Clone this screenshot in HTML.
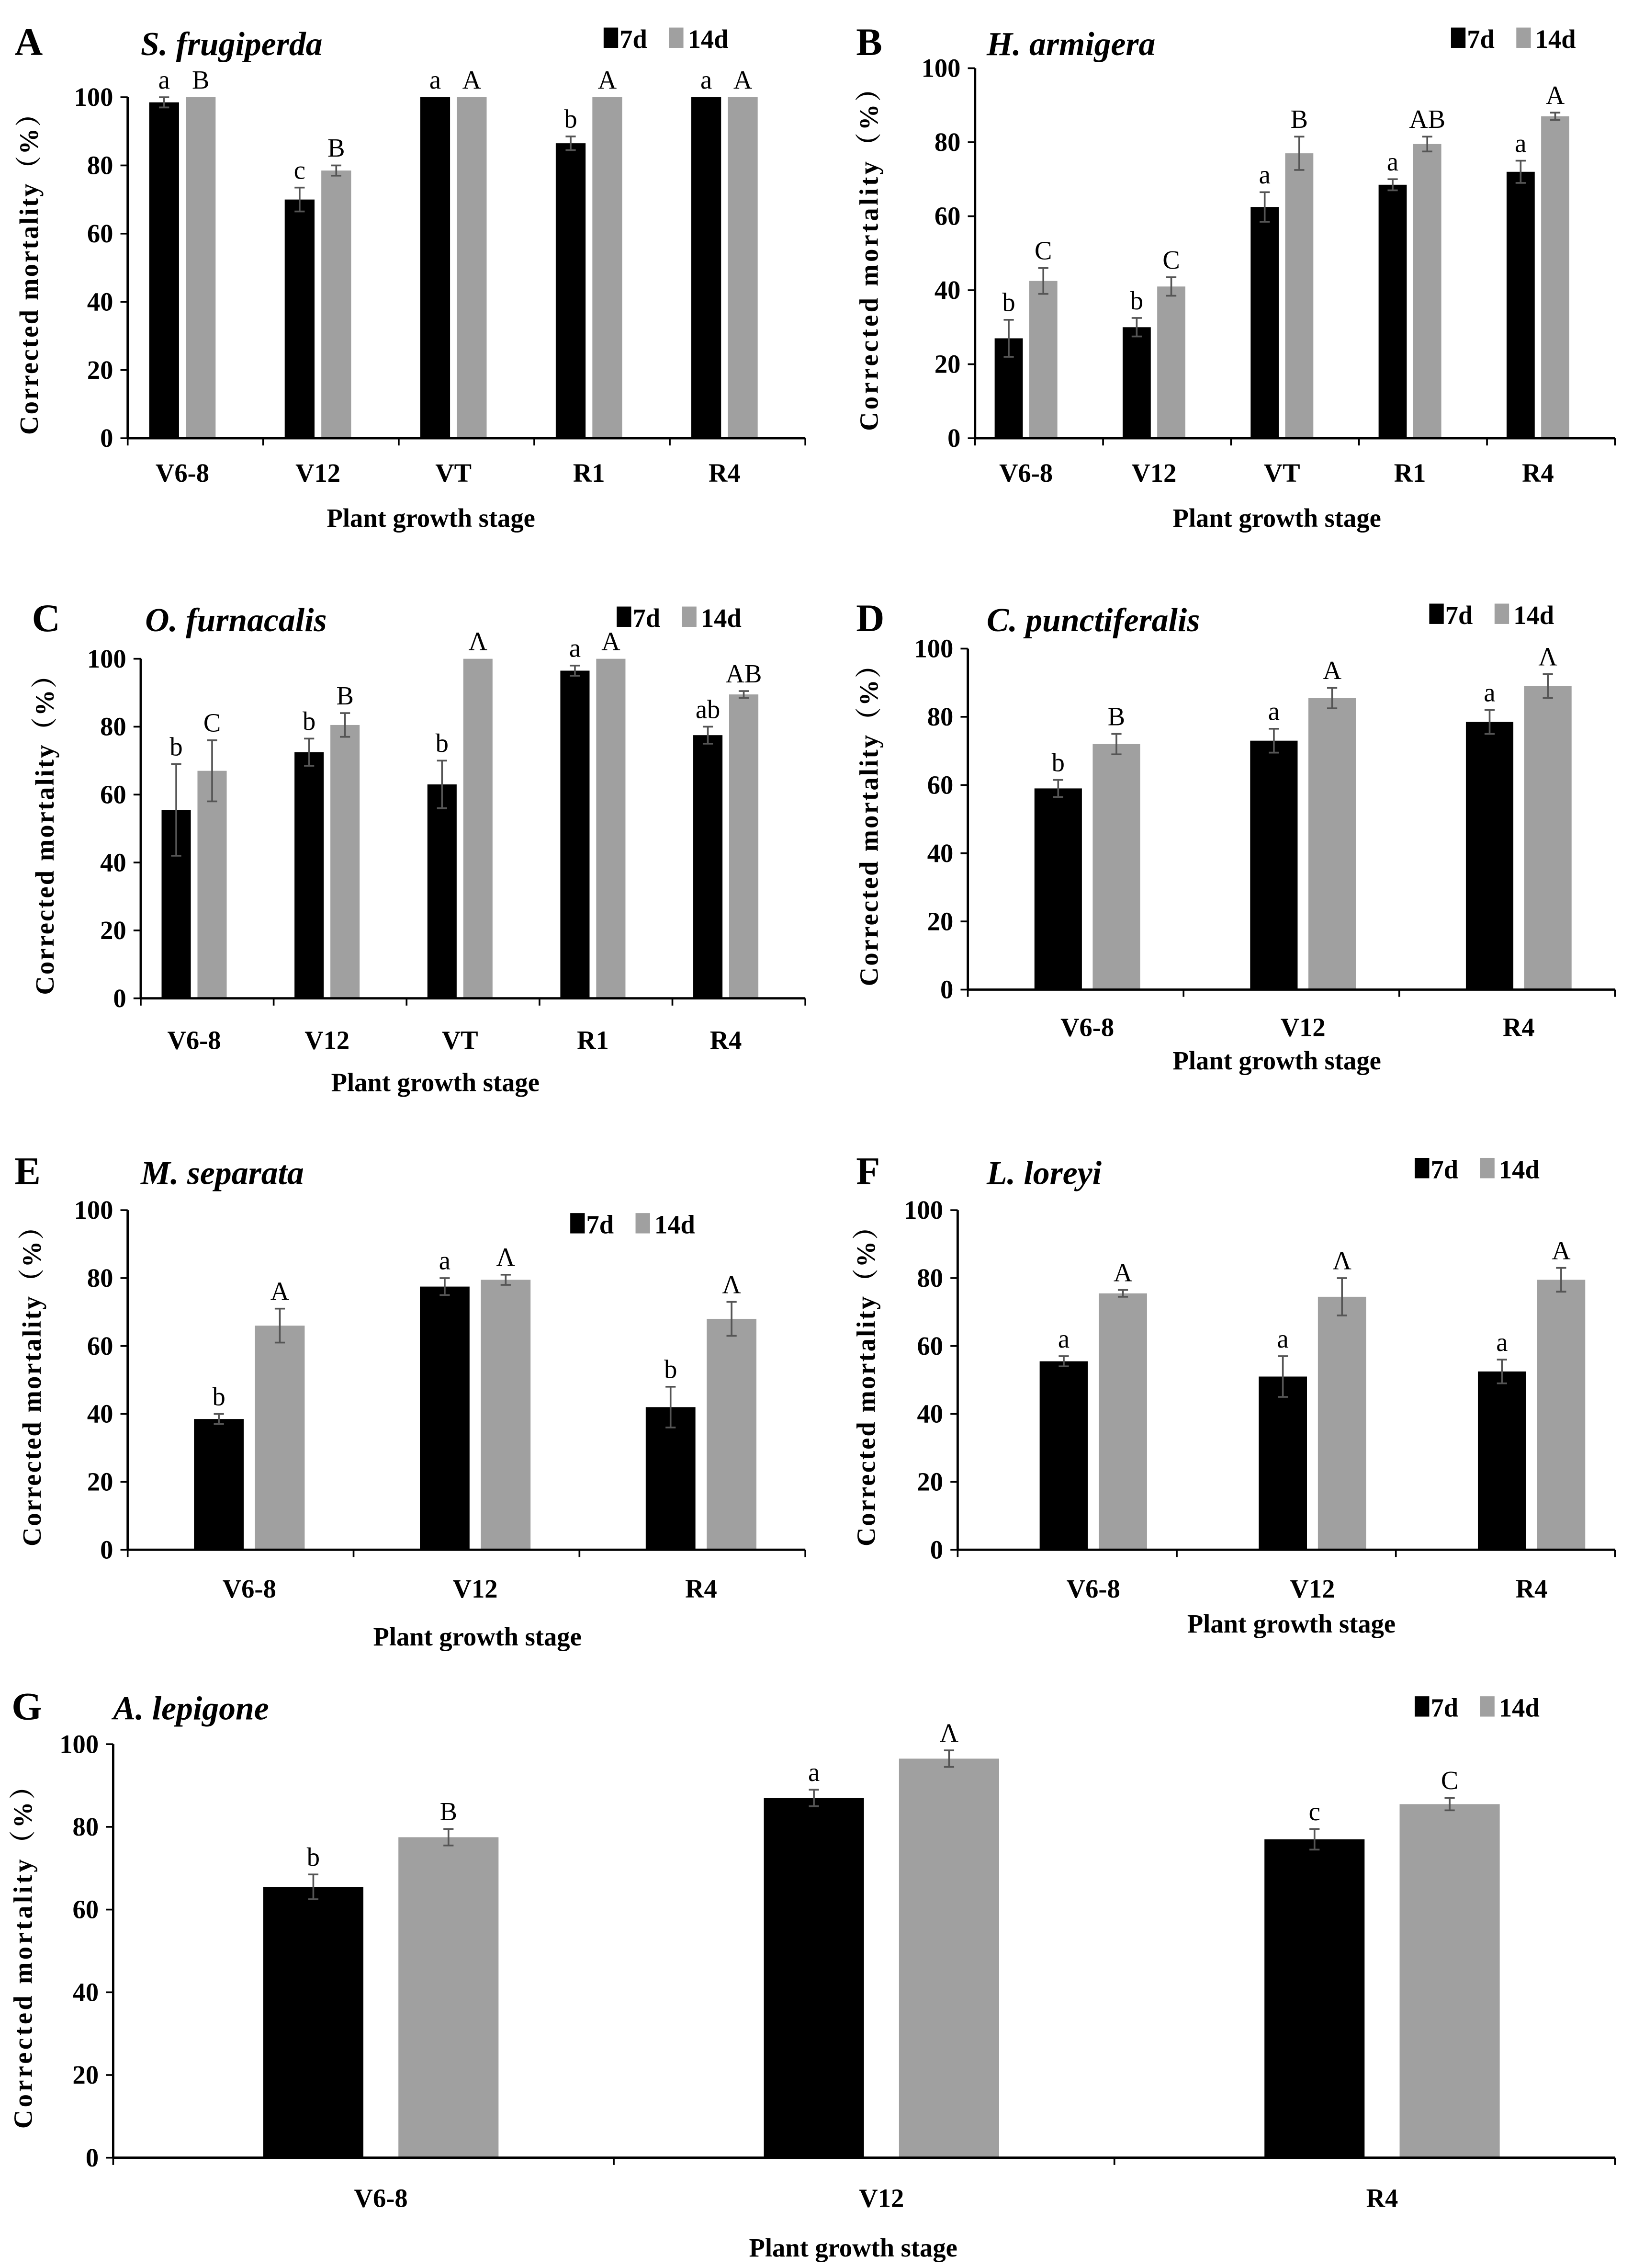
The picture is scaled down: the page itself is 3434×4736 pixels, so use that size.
<!DOCTYPE html>
<html><head><meta charset="utf-8"><style>
html,body{margin:0;padding:0;background:#fff}
svg{display:block}
text{font-family:"Liberation Serif","Noto Serif CJK SC",serif}
</style></head><body>
<svg id="fig" xmlns="http://www.w3.org/2000/svg" width="3434" height="4736" viewBox="0 0 1133 1563" preserveAspectRatio="none"></svg>
<script>
// ---- data ----
const catsA = ["V6-8","V12","VT","R1","R4"];
const d7A = [98.5,70,100,86.5,100];
const e7A = [1.5,3.5,0,2,0];
const d14A = [100,78.5,100,100,100];
const e14A = [0,1.5,0,0,0];
const l7A = ["a","c","a","b","a"];
const l14A = ["B","B","A","A","A"];

const catsB = ["V6-8","V12","VT","R1","R4"];
const d7B = [27,30,62.5,68.5,72];
const e7B = [5,2.5,4,1.5,3];
const d14B = [42.5,41,77,79.5,87];
const e14B = [3.5,2.5,4.5,2,1];
const l7B = ["b","b","a","a","a"];
const l14B = ["C","C","B","AB","A"];

const catsC = ["V6-8","V12","VT","R1","R4"];
const d7C = [55.5,72.5,63,96.5,77.5];
const e7C = [13.5,4,7,1.5,2.5];
const d14C = [67,80.5,100,100,89.5];
const e14C = [9,3.5,0,0,1];
const l7C = ["b","b","b","a","ab"];
const l14C = ["C","B","Λ","A","AB"];

const catsD = ["V6-8","V12","R4"];
const d7D = [59,73,78.5];
const e7D = [2.5,3.5,3.5];
const d14D = [72,85.5,89];
const e14D = [3,3,3.5];
const l7D = ["b","a","a"];
const l14D = ["B","A","Λ"];

const catsE = ["V6-8","V12","R4"];
const d7E = [38.5,77.5,42];
const e7E = [1.5,2.5,6];
const d14E = [66,79.5,68];
const e14E = [5,1.5,5];
const l7E = ["b","a","b"];
const l14E = ["A","Λ","Λ"];

const catsF = ["V6-8","V12","R4"];
const d7F = [55.5,51,52.5];
const e7F = [1.5,6,3.5];
const d14F = [75.5,74.5,79.5];
const e14F = [1,5.5,3.5];
const l7F = ["a","a","a"];
const l14F = ["A","Λ","A"];

const catsG = ["V6-8","V12","R4"];
const d7G = [65.5,87,77];
const e7G = [3,2,2.5];
const d14G = [77.5,96.5,85.5];
const e14G = [2,2,1.5];
const l7G = ["b","a","c"];
const l14G = ["B","Λ","C"];

const yTicks = [0,20,40,60,80,100];

const svg = document.getElementById('fig');
const NS = "http://www.w3.org/2000/svg";
function el(tag, attrs, parent, txt){
  const e = document.createElementNS(NS, tag);
  for (const k in attrs) e.setAttribute(k, attrs[k]);
  if (txt !== undefined) e.textContent = txt;
  (parent||svg).appendChild(e);
  return e;
}

function panel(cfg){
  const g = el('g', {});
  
  
  const {x0,x1,y0,y100} = cfg;
  const ys = v => y0 - (v/100)*(y0-y100);
  const n = cfg.cats.length;
  const cw = (x1-x0)/n;
  const xc = i => x0 + cw*(i+0.5) + (cfg.shift||0);
  const bw = cw*cfg.bwf, gap = cw*cfg.gapf;

  let t = el('text',{x:cfg.lx,y:cfg.ty,'font-size':27,'font-weight':'bold'},g,cfg.id);
  
  
  t = el('text',{x:cfg.sx,y:cfg.ty,'font-size':23,'font-weight':'bold','font-style':'italic'},g,cfg.species);
  
  

  const lg = el('g',{},g);
  
  
  el('rect',{x:cfg.legx,y:cfg.legy-14,width:10,height:14,fill:'#000'},lg);
  el('text',{x:cfg.legx+11,y:cfg.legy,'font-size':18,'font-weight':'bold'},lg,'7d');
  el('rect',{x:cfg.legx+45,y:cfg.legy-14,width:10,height:14,fill:'#a0a0a0'},lg);
  el('text',{x:cfg.legx+58,y:cfg.legy,'font-size':18,'font-weight':'bold'},lg,'14d');

  for (let i=0;i<n;i++){
    const series = [
      {v:cfg.d7[i],e:cfg.e7[i],l:cfg.l7[i],c:'#000',x:xc(i)-gap/2-bw,nm:'bar-7d-'},
      {v:cfg.d14[i],e:cfg.e14[i],l:cfg.l14[i],c:'#a0a0a0',x:xc(i)+gap/2,nm:'bar-14d-'}
    ];
    for (const s of series){
      const r = el('rect',{x:s.x,y:ys(s.v),width:bw,height:y0-ys(s.v),fill:s.c},g);
      
      
      const cx = s.x + bw/2;
      if (s.e>0){
        const ec = '#555';
        el('line',{x1:cx,x2:cx,y1:ys(s.v+s.e),y2:ys(s.v-s.e),stroke:ec,'stroke-width':1.2},g);
        el('line',{x1:cx-3.5,x2:cx+3.5,y1:ys(s.v+s.e),y2:ys(s.v+s.e),stroke:ec,'stroke-width':1.2},g);
        el('line',{x1:cx-3.5,x2:cx+3.5,y1:ys(s.v-s.e),y2:ys(s.v-s.e),stroke:ec,'stroke-width':1.2},g);
      }
      const lt = el('text',{x:cx,y:ys(s.v+s.e)-6,'font-size':18,'text-anchor':'middle'},g,s.l);
      
      
    }
    const xl = el('text',{x:xc(i),y:cfg.xly,'font-size':18,'font-weight':'bold','text-anchor':'middle'},g,cfg.cats[i]);
    
    
  }

  el('line',{x1:x0,x2:x0,y1:y100,y2:y0,stroke:'#000','stroke-width':1.6},g);
  el('line',{x1:x0,x2:x1,y1:y0,y2:y0,stroke:'#000','stroke-width':1.6},g);
  for (let i=0;i<=n;i++){
    const xx = x0+cw*i;
    el('line',{x1:xx,x2:xx,y1:y0,y2:y0+5,stroke:'#000','stroke-width':1.2},g);
  }
  for (const v of yTicks){
    el('line',{x1:x0-5,x2:x0,y1:ys(v),y2:ys(v),stroke:'#000','stroke-width':1.2},g);
    const yt = el('text',{x:x0-10,y:ys(v)+6,'font-size':18,'font-weight':'bold','text-anchor':'end'},g,String(v));
    
    
  }
  const ym = (y0+y100)/2;
  const tl = Math.min((y0-y100)*0.98, 245);
  const yt = el('text',{x:0,y:0,'font-size':18,'font-weight':'bold','text-anchor':'middle',textLength:tl,lengthAdjust:'spacing',transform:`translate(${cfg.ytx},${ym}) rotate(-90)`},g,'Corrected mortality（%）');
  
  
  const xt = el('text',{x:cfg.xtx,y:cfg.xty,'font-size':18,'font-weight':'bold','text-anchor':'middle'},g,'Plant growth stage');
  
  
}

panel({id:'A',species:'S. frugiperda',cats:catsA,d7:d7A,e7:e7A,d14:d14A,e14:e14A,l7:l7A,l14:l14A,
  x0:88,x1:555,y0:302,y100:67,bwf:0.22,gapf:0.05,shift:-9,lx:10,sx:97,ty:38,legx:416,legy:33,xly:332,xtx:297,xty:363,ytx:26});
panel({id:'B',species:'H. armigera',cats:catsB,d7:d7B,e7:e7B,d14:d14B,e14:e14B,l7:l7B,l14:l14B,
  x0:672,x1:1113,y0:302,y100:47,bwf:0.22,gapf:0.05,shift:-9,lx:590,sx:680,ty:38,legx:1000,legy:33,xly:332,xtx:880,xty:363,ytx:605});
panel({id:'C',species:'O. furnacalis',cats:catsC,d7:d7C,e7:e7C,d14:d14C,e14:e14C,l7:l7C,l14:l14C,
  x0:97,x1:555,y0:688,y100:454,bwf:0.22,gapf:0.05,shift:-9,lx:22,sx:100,ty:435,legx:425,legy:432,xly:723,xtx:300,xty:752,ytx:37});
panel({id:'D',species:'C. punctiferalis',cats:catsD,d7:d7D,e7:e7D,d14:d14D,e14:e14D,l7:l7D,l14:l14D,
  x0:667,x1:1113,y0:682,y100:447,bwf:0.22,gapf:0.05,shift:8,lx:590,sx:680,ty:435,legx:985,legy:430,xly:714,xtx:880,xty:737,ytx:605});
panel({id:'E',species:'M. separata',cats:catsE,d7:d7E,e7:e7E,d14:d14E,e14:e14E,l7:l7E,l14:l14E,
  x0:88,x1:555,y0:1068,y100:834,bwf:0.22,gapf:0.05,shift:6,lx:10,sx:97,ty:816,legx:393,legy:850,xly:1101,xtx:329,xty:1134,ytx:28});
panel({id:'F',species:'L. loreyi',cats:catsF,d7:d7F,e7:e7F,d14:d14F,e14:e14F,l7:l7F,l14:l14F,
  x0:660,x1:1113,y0:1068,y100:834,bwf:0.22,gapf:0.05,shift:18,lx:590,sx:680,ty:816,legx:975,legy:812,xly:1101,xtx:890,xty:1125,ytx:603});
panel({id:'G',species:'A. lepigone',cats:catsG,d7:d7G,e7:e7G,d14:d14G,e14:e14G,l7:l7G,l14:l14G,
  x0:78,x1:1113,y0:1487,y100:1202,bwf:0.2,gapf:0.07,shift:12,lx:8,sx:78,ty:1185,legx:975,legy:1183,xly:1521,xtx:588,xty:1555,ytx:22});
</script>
</body></html>
